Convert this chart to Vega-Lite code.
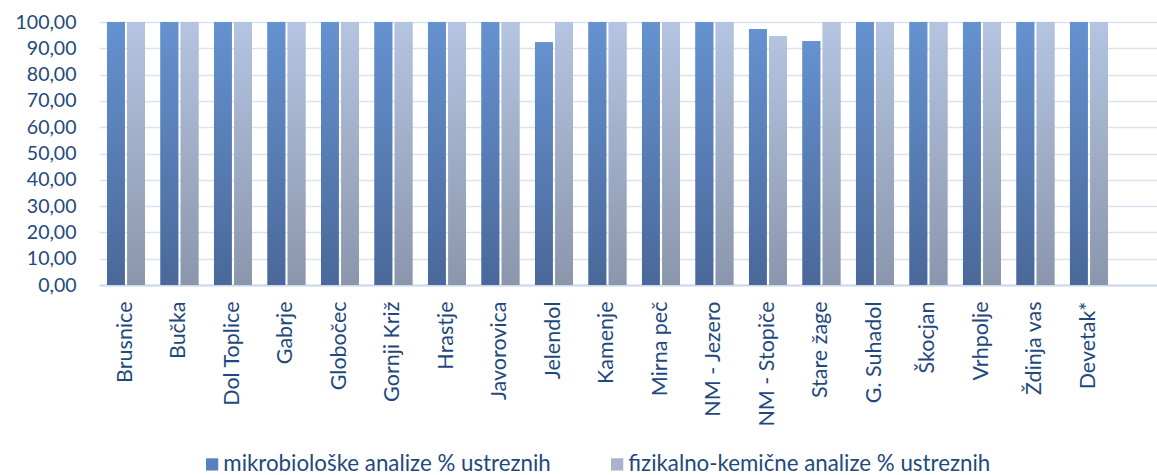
{
  "$schema": "https://vega.github.io/schema/vega-lite/v6.json",
  "autosize": {"type": "none"},
  "padding": {"left": 99, "top": 22, "right": 0, "bottom": 190},
  "width": 1058,
  "height": 263,
  "background": "white",
  "config": {
    "view": {"stroke": null},
    "font": "Lato",
    "axis": {"labelFont": "Lato", "labelColor": "#1F497D", "titleFont": "Lato"},
    "legend": {"labelFont": "Lato"}
  },
  "data": {
    "values": [
      {"kraj": "Brusnice", "serija": "mikrobiološke analize % ustreznih", "vrednost": 100},
      {"kraj": "Brusnice", "serija": "fizikalno-kemične analize % ustreznih", "vrednost": 100},
      {"kraj": "Bučka", "serija": "mikrobiološke analize % ustreznih", "vrednost": 100},
      {"kraj": "Bučka", "serija": "fizikalno-kemične analize % ustreznih", "vrednost": 100},
      {"kraj": "Dol Toplice", "serija": "mikrobiološke analize % ustreznih", "vrednost": 100},
      {"kraj": "Dol Toplice", "serija": "fizikalno-kemične analize % ustreznih", "vrednost": 100},
      {"kraj": "Gabrje", "serija": "mikrobiološke analize % ustreznih", "vrednost": 100},
      {"kraj": "Gabrje", "serija": "fizikalno-kemične analize % ustreznih", "vrednost": 100},
      {"kraj": "Globočec", "serija": "mikrobiološke analize % ustreznih", "vrednost": 100},
      {"kraj": "Globočec", "serija": "fizikalno-kemične analize % ustreznih", "vrednost": 100},
      {"kraj": "Gornji Križ", "serija": "mikrobiološke analize % ustreznih", "vrednost": 100},
      {"kraj": "Gornji Križ", "serija": "fizikalno-kemične analize % ustreznih", "vrednost": 100},
      {"kraj": "Hrastje", "serija": "mikrobiološke analize % ustreznih", "vrednost": 100},
      {"kraj": "Hrastje", "serija": "fizikalno-kemične analize % ustreznih", "vrednost": 100},
      {"kraj": "Javorovica", "serija": "mikrobiološke analize % ustreznih", "vrednost": 100},
      {"kraj": "Javorovica", "serija": "fizikalno-kemične analize % ustreznih", "vrednost": 100},
      {"kraj": "Jelendol", "serija": "mikrobiološke analize % ustreznih", "vrednost": 92.3},
      {"kraj": "Jelendol", "serija": "fizikalno-kemične analize % ustreznih", "vrednost": 100},
      {"kraj": "Kamenje", "serija": "mikrobiološke analize % ustreznih", "vrednost": 100},
      {"kraj": "Kamenje", "serija": "fizikalno-kemične analize % ustreznih", "vrednost": 100},
      {"kraj": "Mirna peč", "serija": "mikrobiološke analize % ustreznih", "vrednost": 100},
      {"kraj": "Mirna peč", "serija": "fizikalno-kemične analize % ustreznih", "vrednost": 100},
      {"kraj": "NM - Jezero", "serija": "mikrobiološke analize % ustreznih", "vrednost": 100},
      {"kraj": "NM - Jezero", "serija": "fizikalno-kemične analize % ustreznih", "vrednost": 100},
      {"kraj": "NM - Stopiče", "serija": "mikrobiološke analize % ustreznih", "vrednost": 97.3},
      {"kraj": "NM - Stopiče", "serija": "fizikalno-kemične analize % ustreznih", "vrednost": 94.7},
      {"kraj": "Stare žage", "serija": "mikrobiološke analize % ustreznih", "vrednost": 92.8},
      {"kraj": "Stare žage", "serija": "fizikalno-kemične analize % ustreznih", "vrednost": 100},
      {"kraj": "G. Suhadol", "serija": "mikrobiološke analize % ustreznih", "vrednost": 100},
      {"kraj": "G. Suhadol", "serija": "fizikalno-kemične analize % ustreznih", "vrednost": 100},
      {"kraj": "Škocjan", "serija": "mikrobiološke analize % ustreznih", "vrednost": 100},
      {"kraj": "Škocjan", "serija": "fizikalno-kemične analize % ustreznih", "vrednost": 100},
      {"kraj": "Vrhpolje", "serija": "mikrobiološke analize % ustreznih", "vrednost": 100},
      {"kraj": "Vrhpolje", "serija": "fizikalno-kemične analize % ustreznih", "vrednost": 100},
      {"kraj": "Ždinja vas", "serija": "mikrobiološke analize % ustreznih", "vrednost": 100},
      {"kraj": "Ždinja vas", "serija": "fizikalno-kemične analize % ustreznih", "vrednost": 100},
      {"kraj": "Devetak*", "serija": "mikrobiološke analize % ustreznih", "vrednost": 100},
      {"kraj": "Devetak*", "serija": "fizikalno-kemične analize % ustreznih", "vrednost": 100}
    ]
  },
  "encoding": {
    "x": {
      "field": "kraj",
      "type": "nominal",
      "sort": null,
      "title": null,
      "scale": {"paddingInner": 0.29, "paddingOuter": 0.533, "align": 0.14},
      "axis": {
        "labelAngle": -90,
        "labelFontSize": 21.5,
        "labelPadding": 16,
        "ticks": false,
        "domainColor": "#CCD8EC",
        "domainWidth": 2,
        "labelLimit": 200
      }
    },
    "xOffset": {
      "field": "serija",
      "type": "nominal",
      "sort": ["mikrobiološke analize % ustreznih", "fizikalno-kemične analize % ustreznih"],
      "scale": {"paddingInner": 0.12, "paddingOuter": 0}
    },
    "y": {
      "field": "vrednost",
      "type": "quantitative",
      "title": null,
      "scale": {"domain": [0, 100], "nice": false},
      "axis": {
        "values": [0, 10, 20, 30, 40, 50, 60, 70, 80, 90, 100],
        "labelExpr": "replace(format(datum.value, '.2f'), '.', ',')",
        "labelFontSize": 19.5,
        "labelPadding": 23,
        "ticks": false,
        "domain": false,
        "gridColor": "#D9E3F1",
        "gridWidth": 1.5
      }
    }
  },
  "layer": [
    {
      "mark": {"type": "bar"},
      "encoding": {
        "color": {
          "field": "serija",
          "type": "nominal",
          "sort": ["mikrobiološke analize % ustreznih", "fizikalno-kemične analize % ustreznih"],
          "scale": {"range": ["#5A80BE", "#A6B4CE"]},
          "legend": {
            "title": null,
            "orient": "none",
            "direction": "horizontal",
            "legendX": 102,
            "legendY": 431,
            "symbolType": "square",
            "symbolSize": 150,
            "symbolStrokeWidth": 0,
            "labelFontSize": 22.3,
            "labelColor": "#1F497D",
            "labelLimit": 500,
            "columnPadding": 55,
            "labelOffset": 0
          }
        }
      }
    },
    {
      "transform": [{"filter": "datum.serija === 'mikrobiološke analize % ustreznih'"}],
      "mark": {
        "type": "bar",
        "fill": {
          "gradient": "linear",
          "x1": 0, "y1": 1, "x2": 0, "y2": 0,
          "stops": [
            {"offset": 0, "color": "#4A6899"},
            {"offset": 1, "color": "#6592D0"}
          ]
        }
      }
    },
    {
      "transform": [{"filter": "datum.serija === 'fizikalno-kemične analize % ustreznih'"}],
      "mark": {
        "type": "bar",
        "fill": {
          "gradient": "linear",
          "x1": 0, "y1": 1, "x2": 0, "y2": 0,
          "stops": [
            {"offset": 0, "color": "#8A96AC"},
            {"offset": 1, "color": "#B4C4E1"}
          ]
        }
      }
    }
  ]
}
